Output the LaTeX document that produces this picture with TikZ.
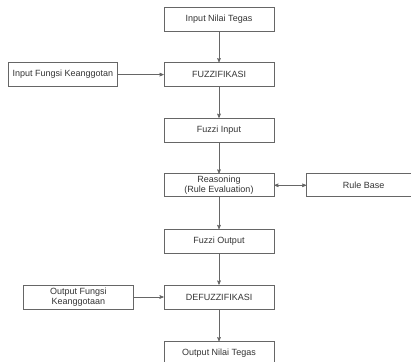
\documentclass[tikz,border=0pt]{standalone}
\usepackage{fontspec}
\setmainfont{Liberation Sans}
\usepackage{tikz}
\usetikzlibrary{arrows,positioning}
\tikzset{>=stealth',auto,node distance=31pt}
\tikzset{proses/.style={draw=black!60,line width=0.6pt,minimum width=110pt,minimum height=24pt,
        align=center,font=\fontsize{9}{10.5}\selectfont,text=black!80,inner sep=1pt}}

\begin{document}
\begin{tikzpicture}[x=1pt,y=1pt,>=stealth',auto,node distance=31pt]
                \useasboundingbox (0,0) rectangle (411,361);
                \tikzset{every path/.style={line width=0.6pt,draw=black!60}}
                \node[proses] (nilai) at (219,342) {Input Nilai Tegas};
                \node[proses] (fuzz)  [below=of nilai] {FUZZIFIKASI};
                \node[proses,minimum width=109pt] (fungsi) [left=46pt of fuzz] {Input Fungsi Keanggotan};
                \node[proses] (fin)   [below=of fuzz] {Fuzzi Input};
                \node[proses,minimum height=23pt] (reason) [below=of fin] {Reasoning\\(Rule Evaluation)};
                \node[proses,minimum height=23pt,minimum width=114pt] (rule)   [right=32pt of reason] {Rule Base};
                \node[proses] (fout)  [below=32pt of reason] {Fuzzi Output};
                \node[proses] (defuz) [below=of fout] {DEFUZZIFIKASI};
                \node[proses] (outfungsi) [left=30pt of defuz] {Output Fungsi\\Keanggotaan};
                \node[proses] (hasil) [below=32pt of defuz] {Output Nilai Tegas};
                \path[->]
                        (nilai)  edge (fuzz)
                        (fungsi) edge (fuzz)
                        (fuzz)   edge (fin)
                        (fin)    edge (reason)
                        (reason) edge [<->] (rule)
                        (reason) edge (fout)
                        (fout)   edge (defuz)
                        (outfungsi) edge (defuz)
                        (defuz)  edge (hasil)
                ;
            \end{tikzpicture}
\end{document}
